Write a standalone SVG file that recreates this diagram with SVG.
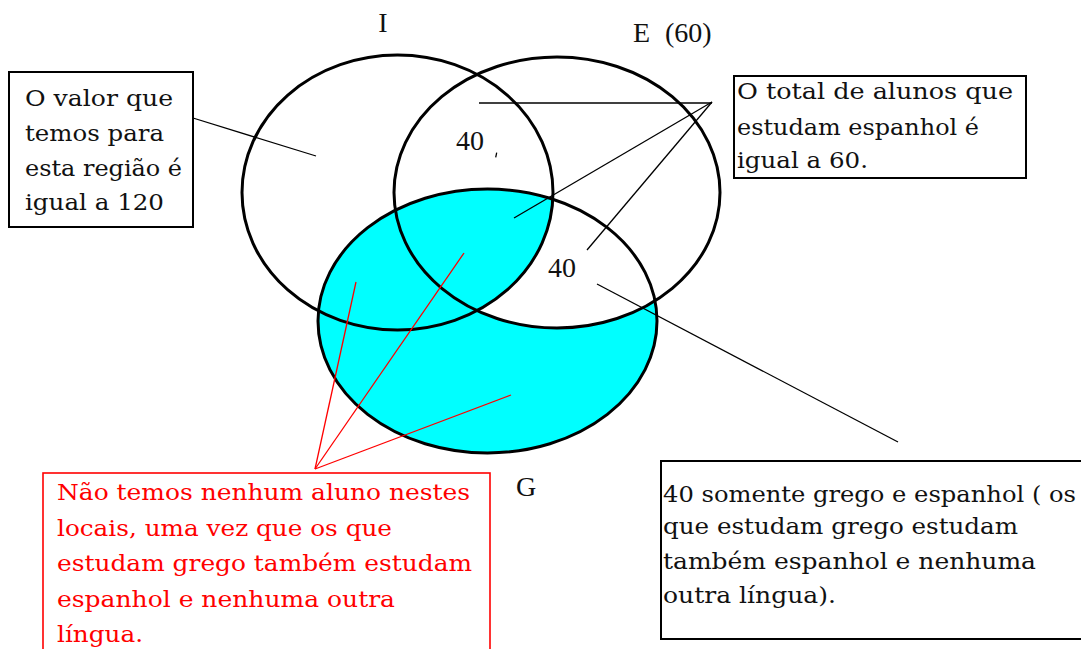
<svg xmlns="http://www.w3.org/2000/svg" width="1081" height="649" viewBox="0 0 1081 649">
<style>
.set{fill:none;stroke:#000;stroke-width:3}
.lbl{font-family:"Liberation Serif","Times New Roman",serif;font-size:28px;fill:#111}
.box{fill:#fff;stroke:#000;stroke-width:2}
.rbox{fill:#fff;stroke:#ff0000;stroke-width:1.6}
.bt{font-family:"DejaVu Serif","Liberation Serif",serif;font-size:23px;fill:#111}
.rt{font-family:"DejaVu Serif","Liberation Serif",serif;font-size:23px;fill:#ff0000}
.ln{stroke:#000;stroke-width:1.3;fill:none}
.rl{stroke:#ff0000;stroke-width:1.3;fill:none}
</style>
<defs>
<clipPath id="clipG"><ellipse cx="487.5" cy="321" rx="169.5" ry="132"/></clipPath>
</defs>
<rect width="1081" height="649" fill="#fff"/>
<g id="fills">
<ellipse cx="487.5" cy="321" rx="169.5" ry="132" fill="#00ffff"/>
<ellipse cx="557" cy="192.5" rx="163" ry="135.5" fill="#fff" clip-path="url(#clipG)"/>
<ellipse cx="397.5" cy="192.5" rx="155.5" ry="137.5" fill="#00ffff" clip-path="url(#clipG)"/>
</g>
<g id="set-I">
<ellipse class="set" cx="397.5" cy="192.5" rx="155.5" ry="137.5"/>
<text class="lbl" x="383" y="32" text-anchor="middle">I</text>
</g>
<g id="set-E">
<ellipse class="set" cx="557" cy="192.5" rx="163" ry="135.5"/>
<text class="lbl" x="633" y="42">E</text>
<text class="lbl" x="665" y="42">(60)</text>
</g>
<g id="set-G">
<ellipse class="set" cx="487.5" cy="321" rx="169.5" ry="132"/>
<text class="lbl" x="516" y="496">G</text>
</g>
<g id="value-IE">
<text class="lbl" x="456" y="150">40</text>
</g>
<g id="value-EG">
<text class="lbl" x="548" y="277">40</text>
</g>
<g id="connectors">
<line class="ln" x1="193" y1="118" x2="316" y2="156"/>
<line class="ln" x1="479" y1="103" x2="712" y2="103"/>
<line class="ln" x1="712" y1="102" x2="514" y2="218"/>
<line class="ln" x1="712" y1="102" x2="587" y2="250"/>
<line class="ln" x1="496.7" y1="152.7" x2="495.7" y2="157.3"/>
<line class="ln" x1="597" y1="284" x2="898" y2="442"/>
<line class="rl" x1="315" y1="469" x2="356" y2="282"/>
<line class="rl" x1="315" y1="469" x2="464" y2="253"/>
<line class="rl" x1="315" y1="469" x2="511" y2="395"/>
</g>
<g id="note-120">
<rect class="box" x="9" y="72" width="184" height="155"/>
<text class="bt" x="25" y="106" textLength="148" lengthAdjust="spacingAndGlyphs">O valor que</text>
<text class="bt" x="25" y="141" textLength="139" lengthAdjust="spacingAndGlyphs">temos para</text>
<text class="bt" x="25" y="176" textLength="157" lengthAdjust="spacingAndGlyphs">esta região é</text>
<text class="bt" x="25" y="210" textLength="139" lengthAdjust="spacingAndGlyphs">igual a 120</text>
</g>
<g id="note-60">
<rect class="box" x="734" y="76" width="292" height="102"/>
<text class="bt" x="737" y="99" textLength="276" lengthAdjust="spacingAndGlyphs">O total de alunos que</text>
<text class="bt" x="737" y="135" textLength="242" lengthAdjust="spacingAndGlyphs">estudam espanhol é</text>
<text class="bt" x="737" y="168" textLength="131" lengthAdjust="spacingAndGlyphs">igual a 60.</text>
</g>
<g id="note-red">
<rect class="rbox" x="43" y="473" width="447" height="190"/>
<text class="rt" x="57" y="500" textLength="413" lengthAdjust="spacingAndGlyphs">Não temos nenhum aluno nestes</text>
<text class="rt" x="57" y="536" textLength="335" lengthAdjust="spacingAndGlyphs">locais, uma vez que os que</text>
<text class="rt" x="57" y="571" textLength="415" lengthAdjust="spacingAndGlyphs">estudam grego também estudam</text>
<text class="rt" x="57" y="607" textLength="338" lengthAdjust="spacingAndGlyphs">espanhol e nenhuma outra</text>
<text class="rt" x="57" y="642" textLength="86" lengthAdjust="spacingAndGlyphs">língua.</text>
</g>
<g id="note-40">
<rect class="box" x="661" y="461" width="430" height="178"/>
<text class="bt" x="663" y="502" textLength="413" lengthAdjust="spacingAndGlyphs">40 somente grego e espanhol ( os</text>
<text class="bt" x="663" y="534" textLength="355" lengthAdjust="spacingAndGlyphs">que estudam grego estudam</text>
<text class="bt" x="663" y="569" textLength="373" lengthAdjust="spacingAndGlyphs">também espanhol e nenhuma</text>
<text class="bt" x="663" y="603" textLength="173" lengthAdjust="spacingAndGlyphs">outra língua).</text>
</g>
</svg>
